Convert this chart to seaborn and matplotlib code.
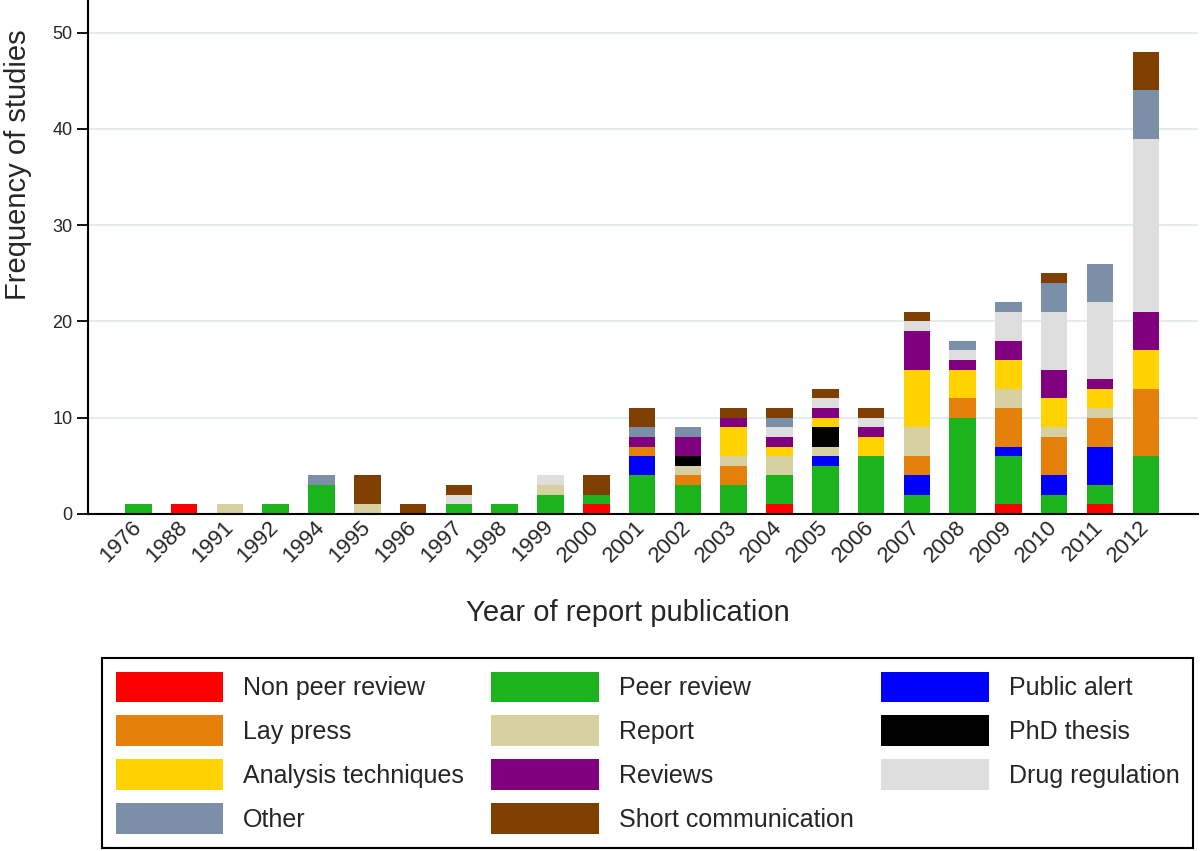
import matplotlib
matplotlib.use('Agg')
from matplotlib import pyplot as plt
from matplotlib.patches import Patch
import seaborn as sns
import pandas as pd

# Year of publication (categorical axis)
years = ['1976', '1988', '1991', '1992', '1994', '1995', '1996', '1997', '1998', '1999', '2000',
         '2001', '2002', '2003', '2004', '2005', '2006', '2007', '2008', '2009', '2010', '2011', '2012']

# Number of studies per report type, one value per year (stacked bottom to top)
non_peer_review = [0, 1, 0, 0, 0, 0, 0, 0, 0, 0, 1, 0, 0, 0, 1, 0, 0, 0, 0, 1, 0, 1, 0]
peer_review = [1, 0, 0, 1, 3, 0, 0, 1, 1, 2, 1, 4, 3, 3, 3, 5, 6, 2, 10, 5, 2, 2, 6]
public_alert = [0, 0, 0, 0, 0, 0, 0, 0, 0, 0, 0, 2, 0, 0, 0, 1, 0, 2, 0, 1, 2, 4, 0]
lay_press = [0, 0, 0, 0, 0, 0, 0, 0, 0, 0, 0, 1, 1, 2, 0, 0, 0, 2, 2, 4, 4, 3, 7]
report = [0, 0, 1, 0, 0, 1, 0, 0, 0, 1, 0, 0, 1, 1, 2, 1, 0, 3, 0, 2, 1, 1, 0]
phd_thesis = [0, 0, 0, 0, 0, 0, 0, 0, 0, 0, 0, 0, 1, 0, 0, 2, 0, 0, 0, 0, 0, 0, 0]
analysis_techniques = [0, 0, 0, 0, 0, 0, 0, 0, 0, 0, 0, 0, 0, 3, 1, 1, 2, 6, 3, 3, 3, 2, 4]
reviews = [0, 0, 0, 0, 0, 0, 0, 0, 0, 0, 0, 1, 2, 1, 1, 1, 1, 4, 1, 2, 3, 1, 4]
drug_regulation = [0, 0, 0, 0, 0, 0, 0, 1, 0, 1, 0, 0, 0, 0, 1, 1, 1, 1, 1, 3, 6, 8, 18]
other = [0, 0, 0, 0, 1, 0, 0, 0, 0, 0, 0, 1, 1, 0, 1, 0, 0, 0, 1, 1, 3, 4, 5]
short_communication = [0, 0, 0, 0, 0, 3, 1, 1, 0, 0, 2, 2, 0, 1, 1, 1, 1, 1, 0, 0, 1, 0, 4]

categories = ['Non peer review', 'Peer review', 'Public alert', 'Lay press', 'Report', 'PhD thesis',
              'Analysis techniques', 'Reviews', 'Drug regulation', 'Other', 'Short communication']
colors = ['#ff0000', '#1cb41c', '#0000ff', '#e5800a', '#d7d1a1', '#000000',
          '#ffd200', '#800080', '#dedede', '#7b8fa8', '#7f3f00']

# Legend is read row by row: 3 per row
legend_order = [0, 3, 6, 9, 1, 4, 7, 10, 2, 5, 8]

sns.set_style('white')
plt.rcParams['font.family'] = ['Liberation Sans', 'DejaVu Sans']

df = pd.DataFrame({
    'Non peer review': non_peer_review,
    'Peer review': peer_review,
    'Public alert': public_alert,
    'Lay press': lay_press,
    'Report': report,
    'PhD thesis': phd_thesis,
    'Analysis techniques': analysis_techniques,
    'Reviews': reviews,
    'Drug regulation': drug_regulation,
    'Other': other,
    'Short communication': short_communication,
}, index=years)
cum = df[categories].cumsum(axis=1)

fig = plt.figure(figsize=(12, 8.51), dpi=100)
ax = fig.add_axes([88 / 1200, 1 - 514 / 851, (1198 - 88) / 1200, 514 / 851])

# Stacked bars: draw cumulative totals from the top layer down
for cat, color in reversed(list(zip(categories, colors))):
    sns.barplot(x=cum.index, y=cum[cat].values, color=color, saturation=1,
                width=0.58, errorbar=None, linewidth=0, ax=ax, zorder=2)

ax.set_xlim(-1.10, 23.14)
ax.set_ylim(0, 53.4)
ax.set_yticks([0, 10, 20, 30, 40, 50])
ax.yaxis.grid(True, color='#e4eded', linewidth=1.5, zorder=0)
ax.set_axisbelow(True)

for side in ['top', 'right']:
    ax.spines[side].set_visible(False)
for side in ['left', 'bottom']:
    ax.spines[side].set_color('black')
    ax.spines[side].set_linewidth(1.5)

ax.tick_params(axis='y', left=True, length=8, width=1.3, color='black', labelsize=13, pad=3)
ax.tick_params(axis='x', length=0, labelsize=16, pad=7)
plt.setp(ax.get_xticklabels(), rotation=45, ha='right', va='center', rotation_mode='anchor')

ax.set_xlabel('Year of report publication', fontsize=21)
ax.xaxis.set_label_coords(0.4865, -0.166)
ax.set_ylabel('Frequency of studies', fontsize=21)
ax.yaxis.set_label_coords(-0.050, 0.679)

handles = [Patch(facecolor=colors[i], edgecolor='none') for i in legend_order]
labels = [categories[i] for i in legend_order]
leg = fig.legend(handles, labels, loc='upper left', bbox_to_anchor=(102 / 1200, 1 - 658 / 851),
                 ncol=3, fontsize=18, frameon=True, fancybox=False, edgecolor='black',
                 framealpha=1, handlelength=4.3, handleheight=1.53, handletextpad=0.8,
                 columnspacing=1.1, borderpad=0.54, labelspacing=0.52, borderaxespad=0)
leg.get_frame().set_linewidth(1.5)

fig.savefig('out.png', dpi=100)
